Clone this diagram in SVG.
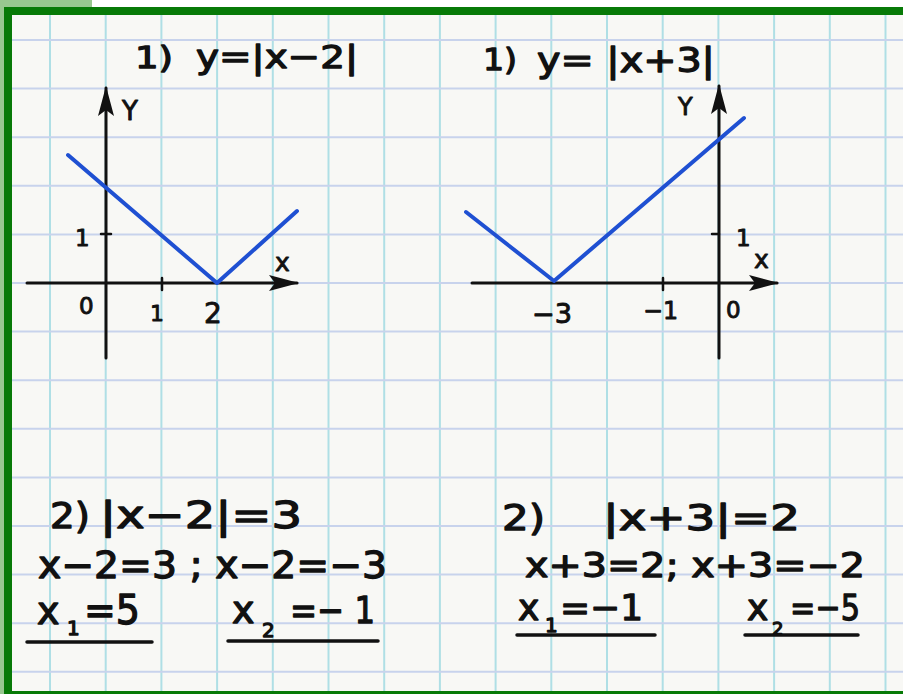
<svg xmlns="http://www.w3.org/2000/svg" width="903" height="694" viewBox="0 0 903 694">
<defs>
<style>
.vg{stroke:#afdfe5;stroke-width:2}
.hg{stroke:#c8d3ec;stroke-width:2}
.ax{stroke:#111;stroke-width:3;fill:none;stroke-linecap:round}
.tk{stroke:#111;stroke-width:2.5;stroke-linecap:round}
.fn{stroke:#1f50d2;stroke-width:4;fill:none;stroke-linecap:round;stroke-linejoin:round}
.ul{stroke:#111;stroke-width:3.5;stroke-linecap:round}
.hw{font-family:"DejaVu Sans","Liberation Sans",sans-serif;fill:#111;stroke:#111;stroke-width:1.3;stroke-linejoin:round}
.sm{stroke-width:0.9}
</style>
<marker id="arr" viewBox="0 0 30 20" refX="28" refY="10" markerWidth="30" markerHeight="20" markerUnits="userSpaceOnUse" orient="auto">
<path d="M0,2 L30,10 L0,18 L6,10 Z" fill="#111"/>
</marker>
</defs>
<rect width="903" height="694" fill="#ffffff"/>
<rect x="0" y="0" width="92" height="8" fill="#98c890"/>
<rect x="0" y="0" width="4" height="694" fill="#98c890"/>
<rect x="12" y="15" width="891" height="677" fill="#f8f8f5"/>
<g id="grid">
<line class="vg" x1="50" y1="15" x2="50" y2="692"/>
<line class="vg" x1="105.7" y1="15" x2="105.7" y2="692"/>
<line class="vg" x1="161.4" y1="15" x2="161.4" y2="692"/>
<line class="vg" x1="217.1" y1="15" x2="217.1" y2="692"/>
<line class="vg" x1="272.8" y1="15" x2="272.8" y2="692"/>
<line class="vg" x1="328.5" y1="15" x2="328.5" y2="692"/>
<line class="vg" x1="384.2" y1="15" x2="384.2" y2="692"/>
<line class="vg" x1="439.9" y1="15" x2="439.9" y2="692"/>
<line class="vg" x1="495.6" y1="15" x2="495.6" y2="692"/>
<line class="vg" x1="551.3" y1="15" x2="551.3" y2="692"/>
<line class="vg" x1="607" y1="15" x2="607" y2="692"/>
<line class="vg" x1="662.7" y1="15" x2="662.7" y2="692"/>
<line class="vg" x1="718.4" y1="15" x2="718.4" y2="692"/>
<line class="vg" x1="774.1" y1="15" x2="774.1" y2="692"/>
<line class="vg" x1="829.8" y1="15" x2="829.8" y2="692"/>
<line class="vg" x1="885.5" y1="15" x2="885.5" y2="692"/>
<line class="hg" x1="12" y1="40" x2="903" y2="40"/>
<line class="hg" x1="12" y1="88.6" x2="903" y2="88.6"/>
<line class="hg" x1="12" y1="137.2" x2="903" y2="137.2"/>
<line class="hg" x1="12" y1="185.8" x2="903" y2="185.8"/>
<line class="hg" x1="12" y1="234.4" x2="903" y2="234.4"/>
<line class="hg" x1="12" y1="283" x2="903" y2="283"/>
<line class="hg" x1="12" y1="331.6" x2="903" y2="331.6"/>
<line class="hg" x1="12" y1="380.2" x2="903" y2="380.2"/>
<line class="hg" x1="12" y1="428.8" x2="903" y2="428.8"/>
<line class="hg" x1="12" y1="477.4" x2="903" y2="477.4"/>
<line class="hg" x1="12" y1="526" x2="903" y2="526"/>
<line class="hg" x1="12" y1="574.6" x2="903" y2="574.6"/>
<line class="hg" x1="12" y1="623.2" x2="903" y2="623.2"/>
<line class="hg" x1="12" y1="671.8" x2="903" y2="671.8"/>
</g>
<rect x="4" y="7" width="899" height="8" fill="#077a07"/>
<rect x="4" y="7" width="8" height="687" fill="#077a07"/>
<rect x="4" y="691" width="899" height="3" fill="#077a07"/>
<g id="graph1">
<line class="ax" x1="106" y1="358" x2="106" y2="88" marker-end="url(#arr)"/>
<line class="ax" x1="27" y1="283" x2="297" y2="283" marker-end="url(#arr)"/>
<line class="tk" x1="162" y1="278" x2="162" y2="290"/>
<line class="tk" x1="101" y1="234" x2="111" y2="234"/>
<polyline class="fn" points="68,155 217,283 297,211"/>
<text class="hw" x="135" y="68" font-size="30" textLength="38" lengthAdjust="spacingAndGlyphs">1)</text>
<text class="hw" x="196" y="68" font-size="32" textLength="162" lengthAdjust="spacingAndGlyphs">y=|x−2|</text>
<text class="hw sm" x="122" y="120" font-size="26">Y</text>
<text class="hw sm" x="275" y="271" font-size="25">x</text>
<text class="hw sm" x="79" y="314" font-size="23">0</text>
<text class="hw sm" x="150" y="321" font-size="22">1</text>
<text class="hw sm" x="204" y="323" font-size="28">2</text>
<text class="hw sm" x="75" y="246" font-size="23">1</text>
</g>
<g id="graph2">
<line class="ax" x1="719" y1="358" x2="719" y2="86" marker-end="url(#arr)"/>
<line class="ax" x1="472" y1="283" x2="777" y2="283" marker-end="url(#arr)"/>
<line class="tk" x1="663" y1="278" x2="663" y2="290"/>
<line class="tk" x1="712" y1="234" x2="719" y2="234"/>
<polyline class="fn" points="466,212 554,281 744,118"/>
<text class="hw" x="483" y="70" font-size="30" textLength="34" lengthAdjust="spacingAndGlyphs">1)</text>
<text class="hw" x="537" y="72" font-size="34" textLength="178" lengthAdjust="spacingAndGlyphs">y= |x+3|</text>
<text class="hw sm" x="678" y="115" font-size="24">Y</text>
<text class="hw sm" x="736" y="246" font-size="23">1</text>
<text class="hw sm" x="754" y="268" font-size="25">x</text>
<text class="hw sm" x="532" y="323" font-size="26" textLength="40" lengthAdjust="spacingAndGlyphs">−3</text>
<text class="hw sm" x="643" y="319" font-size="24" textLength="35" lengthAdjust="spacingAndGlyphs">−1</text>
<text class="hw sm" x="726" y="318" font-size="23">0</text>
</g>
<g id="solution1">
<text class="hw" x="50" y="528" font-size="36" textLength="40" lengthAdjust="spacingAndGlyphs">2)</text>
<text class="hw" x="100" y="528" font-size="38" textLength="202" lengthAdjust="spacingAndGlyphs">|x−2|=3</text>
<text class="hw" x="38" y="578" font-size="38" textLength="349" lengthAdjust="spacingAndGlyphs">x−2=3 ; x−2=−3</text>
<text class="hw" x="37" y="624" font-size="38">x</text>
<text class="hw" x="67" y="635" font-size="20">1</text>
<text class="hw" x="84" y="624" font-size="40" textLength="56" lengthAdjust="spacingAndGlyphs">=5</text>
<line class="ul" x1="27" y1="642" x2="152" y2="642"/>
<text class="hw" x="232" y="623" font-size="38">x</text>
<text class="hw" x="262" y="637" font-size="20">2</text>
<text class="hw" x="290" y="623" font-size="38" textLength="85" lengthAdjust="spacingAndGlyphs">=− 1</text>
<line class="ul" x1="228" y1="641" x2="378" y2="641"/>
</g>
<g id="solution2">
<text class="hw" x="502" y="530" font-size="36" textLength="43" lengthAdjust="spacingAndGlyphs">2)</text>
<text class="hw" x="603" y="530" font-size="36" textLength="197" lengthAdjust="spacingAndGlyphs">|x+3|=2</text>
<text class="hw" x="525" y="577" font-size="34" textLength="340" lengthAdjust="spacingAndGlyphs">x+3=2; x+3=−2</text>
<text class="hw" x="518" y="620" font-size="36">x</text>
<text class="hw" x="545" y="632" font-size="20">1</text>
<text class="hw" x="560" y="620" font-size="36" textLength="83" lengthAdjust="spacingAndGlyphs">=−1</text>
<line class="ul" x1="517" y1="635" x2="655" y2="635"/>
<text class="hw" x="747" y="620" font-size="36">x</text>
<text class="hw" x="772" y="635" font-size="18">2</text>
<text class="hw" x="790" y="620" font-size="36" textLength="70" lengthAdjust="spacingAndGlyphs">=−5</text>
<line class="ul" x1="745" y1="635" x2="858" y2="635"/>
</g>
</svg>
